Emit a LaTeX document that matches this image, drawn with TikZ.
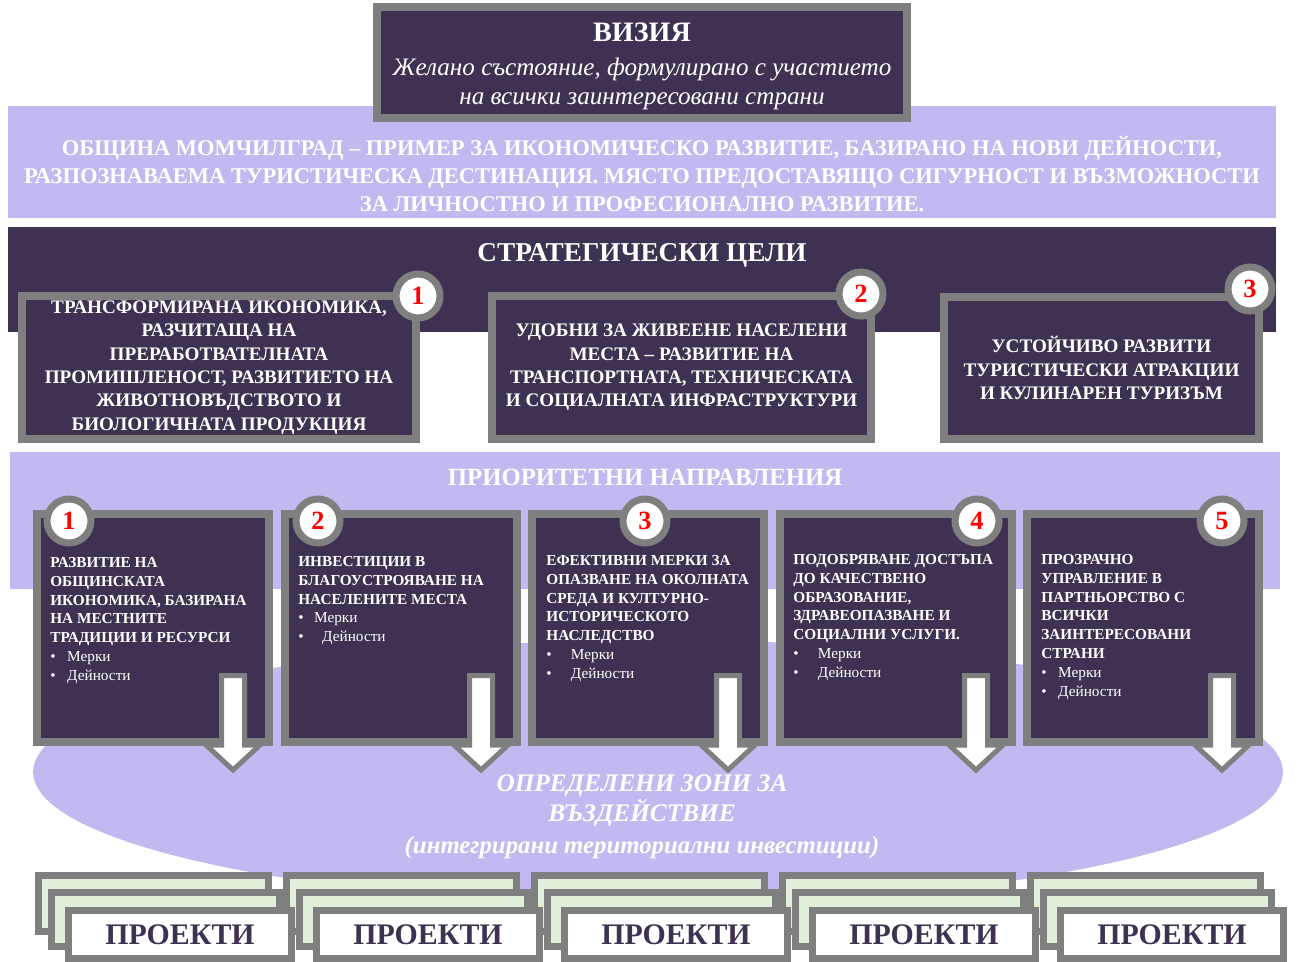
\documentclass[tikz,border=0pt]{standalone}
\usepackage{fontspec}
\setmainfont{Liberation Serif}
\usetikzlibrary{shapes.geometric}
\definecolor{darkplum}{HTML}{3F3151}
\definecolor{lavender}{HTML}{C3B9F0}
\definecolor{framegray}{HTML}{7F7F7F}
\definecolor{palegreen}{HTML}{E2EFDA}
\newcommand\pitem[2]{\makebox[#1][l]{\mdseries\textbullet}\mdseries #2}

\begin{document}
\begin{tikzpicture}[
    x=0.02cm, y=-0.02cm,
    every node/.style={align=center, inner sep=0pt},
    plumbox/.style={draw=framegray, line width=0.16cm, fill=darkplum, text=white},
    badge/.style={circle, draw=framegray, line width=0.14cm, fill=white,
      minimum size=0.88cm, text=red, font=\bfseries\fontsize{15}{15}\selectfont},
    goaltext/.style={font=\bfseries\fontsize{10.9}{13.3}\selectfont},
    prtext/.style={anchor=north west, align=left, text=white,
      font=\bfseries\fontsize{8.7}{10.7}\selectfont},
    heading/.style={text=white, font=\bfseries\fontsize{15}{15}\selectfont},
    blockarrow/.style={draw=framegray, fill=white, line width=0.1cm},
    projback/.style={draw=framegray, line width=0.14cm, fill=palegreen},
    projfront/.style={draw=framegray, line width=0.14cm, fill=white,
      text=darkplum, font=\bfseries\fontsize{17}{17}\selectfont}
  ]
  \useasboundingbox (0,0) rectangle (1298,962);
  \fill[white] (0,0) rectangle (1298,962);

  % vision
  \node[fill=lavender, minimum width=25.36cm, minimum height=2.24cm] (visionband) at (642,162) {};
  \node[plumbox, minimum width=10.6cm, minimum height=2.22cm] (vision) at (642,62.5) {};
  \node[heading, font=\bfseries\fontsize{16}{16}\selectfont] (visiontitle) at (642,32) {ВИЗИЯ};
  \node[text=white, font=\itshape\fontsize{14.3}{17}\selectfont] (visiontext) at (642,84)
    {Желано състояние, формулирано с участието\\на всички заинтересовани страни};
  \node[text=white, font=\bfseries\fontsize{12.8}{15.9}\selectfont] (statement) at (642,174)
    {ОБЩИНА МОМЧИЛГРАД – ПРИМЕР ЗА ИКОНОМИЧЕСКО РАЗВИТИЕ, БАЗИРАНО НА НОВИ ДЕЙНОСТИ,\\
     РАЗПОЗНАВАЕМА ТУРИСТИЧЕСКА ДЕСТИНАЦИЯ. МЯСТО ПРЕДОСТАВЯЩО СИГУРНОСТ И ВЪЗМОЖНОСТИ\\
     ЗА ЛИЧНОСТНО И ПРОФЕСИОНАЛНО РАЗВИТИЕ.};

  % strategic goals
  \node[fill=darkplum, minimum width=25.36cm, minimum height=2.1cm] (goalband) at (642,279.5) {};
  \node[heading, font=\bfseries\fontsize{15.5}{15.5}\selectfont] (goaltitle) at (642,255) {СТРАТЕГИЧЕСКИ ЦЕЛИ};
  \node[plumbox, goaltext, minimum width=7.88cm, minimum height=2.86cm] (goalA) at (219,367.5)
    {ТРАНСФОРМИРАНА ИКОНОМИКА,\\РАЗЧИТАЩА НА\\ПРЕРАБОТВАТЕЛНАТА\\ПРОМИШЛЕНОСТ, РАЗВИТИЕТО НА\\ЖИВОТНОВЪДСТВОТО И\\БИОЛОГИЧНАТА ПРОДУКЦИЯ};
  \node[plumbox, goaltext, minimum width=7.58cm, minimum height=2.86cm] (goalB) at (681.5,367.5)
    {УДОБНИ ЗА ЖИВЕЕНЕ НАСЕЛЕНИ\\МЕСТА – РАЗВИТИЕ НА\\ТРАНСПОРТНАТА, ТЕХНИЧЕСКАТА\\И СОЦИАЛНАТА ИНФРАСТРУКТУРИ};
  \node[plumbox, goaltext, minimum width=6.3cm, minimum height=2.84cm] (goalC) at (1101.5,368)
    {УСТОЙЧИВО РАЗВИТИ\\ТУРИСТИЧЕСКИ АТРАКЦИИ\\И КУЛИНАРЕН ТУРИЗЪМ};
  \node[badge] (goalAnum) at (418,296) {1};
  \node[badge] (goalBnum) at (861,294) {2};
  \node[badge] (goalCnum) at (1250,289) {3};

  % priorities
  \node[fill=lavender, minimum width=25.4cm, minimum height=2.74cm] (prioband) at (645,520.5) {};
  \node[ellipse, fill=lavender, minimum width=25cm, minimum height=5.28cm] (zone) at (658,772) {};
  \fill[lavender] (330,880) -- (640,935) -- (1000,885) -- cycle;
  \node[heading, font=\bfseries\fontsize{14.1}{14.1}\selectfont] (priotitle) at (645,477) {ПРИОРИТЕТНИ НАПРАВЛЕНИЯ};
  \foreach \k in {0,...,4}
    \node[plumbox, minimum width=4.64cm, minimum height=4.56cm] (prio\k) at ({153+247.6*\k},628) {};
  \node[prtext] (prio0text) at (50,557)
    {РАЗВИТИЕ НА\\ОБЩИНСКАТА\\ИКОНОМИКА, БАЗИРАНА\\НА МЕСТНИТЕ\\ТРАДИЦИИ И РЕСУРСИ\\
     \pitem{9.6pt}{Мерки}\\\pitem{9.6pt}{Дейности}};
  \node[prtext] (prio1text) at (298,556)
    {ИНВЕСТИЦИИ В\\БЛАГОУСТРОЯВАНЕ НА\\НАСЕЛЕНИТЕ МЕСТА\\
     \pitem{9pt}{Мерки}\\\pitem{13.6pt}{Дейности}};
  \node[prtext] (prio2text) at (546,555)
    {ЕФЕКТИВНИ МЕРКИ ЗА\\ОПАЗВАНЕ НА ОКОЛНАТА\\СРЕДА И КУЛТУРНО-\\ИСТОРИЧЕСКОТО\\НАСЛЕДСТВО\\
     \pitem{14pt}{Мерки}\\\pitem{14pt}{Дейности}};
  \node[prtext] (prio3text) at (793,554)
    {ПОДОБРЯВАНЕ ДОСТЪПА\\ДО КАЧЕСТВЕНО\\ОБРАЗОВАНИЕ,\\ЗДРАВЕОПАЗВАНЕ И\\СОЦИАЛНИ УСЛУГИ.\\
     \pitem{14pt}{Мерки}\\\pitem{14pt}{Дейности}};
  \node[prtext] (prio4text) at (1041,554)
    {ПРОЗРАЧНО\\УПРАВЛЕНИЕ В\\ПАРТНЬОРСТВО С\\ВСИЧКИ\\ЗАИНТЕРЕСОВАНИ\\СТРАНИ\\
     \pitem{9.6pt}{Мерки}\\\pitem{9.6pt}{Дейности}};
  \foreach \ax in {233,481,728,976,1222}
    \draw[blockarrow] (\ax-11.5,675.5) -- (\ax+11.5,675.5) -- (\ax+11.5,745)
      -- (\ax+27,745) -- (\ax,770) -- (\ax-27,745) -- (\ax-11.5,745) -- cycle;
  \node[badge] (prio0num) at (69,521) {1};
  \node[badge] (prio1num) at (318,521) {2};
  \node[badge] (prio2num) at (645,521) {3};
  \node[badge] (prio3num) at (977,521) {4};
  \node[badge] (prio4num) at (1222,521) {5};

  % zones and projects
  \node[text=white, font=\bfseries\itshape\fontsize{14.4}{17}\selectfont] (zonetitle) at (642,801)
    {ОПРЕДЕЛЕНИ ЗОНИ ЗА\\ВЪЗДЕЙСТВИЕ};
  \node[text=white, font=\bfseries\itshape\fontsize{14.1}{14.1}\selectfont] (zonenote) at (642,848)
    {(интегрирани териториални инвестиции)};
  \foreach \k in {0,...,4}
    \node[projback, minimum width=4.6cm, minimum height=1.12cm] (projA\k) at ({153.5+248*\k},903.5) {};
  \foreach \k in {0,...,4}
    \node[projback, minimum width=4.56cm, minimum height=1.08cm] (projB\k) at ({165.5+248*\k},919.5) {};
  \foreach \k in {0,...,4}
    \node[projfront, minimum width=4.46cm, minimum height=0.96cm] (projC\k) at ({180+248*\k},934.5) {ПРОЕКТИ};
\end{tikzpicture}
\end{document}
